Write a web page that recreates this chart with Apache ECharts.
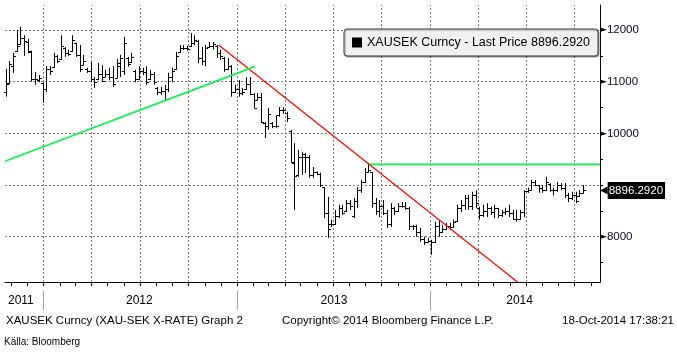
<!DOCTYPE html>
<html lang="sv">
<head>
<meta charset="UTF-8">
<title>XAUSEK Curncy</title>
<script src="https://cdn.jsdelivr.net/npm/echarts@6/dist/echarts.min.js"></script>
<style>
html, body { margin: 0; padding: 0; background: #fff; }
#chart { width: 677px; height: 353px; }
</style>
</head>
<body>
<div id="chart"></div>
<script>
// weekly bars, first week ends Fri 2011-10-21
var firstWeek = '2011-10-21';
var open = [10800,10980,11300,11600,11720,11850,11760,11580,11060,11040,10980,10850,11250,11280,11500,11430,11650,11560,11600,11740,
  11520,11330,11250,11200,11050,11050,11150,11100,11150,11100,11080,11300,11200,11450,11380,11200,11050,11200,11180,11050,
  11150,10880,10800,10820,10850,11100,11250,11580,11650,11650,11700,11750,11780,11450,11400,11680,11700,11700,11550,11450,
  11250,11300,10800,10850,10780,10850,10950,10760,10650,10700,10200,10150,10200,10150,10350,10450,10400,10050,9430,9200,
  9550,9550,9550,9200,9250,9220,8960,8450,8250,8250,8400,8550,8500,8650,8400,8700,8900,9050,9250,9250,
  8650,8500,8600,8450,8250,8550,8500,8600,8600,8550,8200,8200,8100,7950,7900,7920,7900,8200,8100,8150,
  8200,8180,8300,8550,8620,8750,8600,8800,8560,8420,8500,8550,8480,8550,8420,8480,8500,8450,8350,8350,
  8480,8880,8900,9050,9000,8950,8900,9020,8900,8900,9000,8950,8800,8750,8800,8780,8850];
var high = [11250,11400,11560,12000,12060,11900,11830,11600,11190,11130,10990,11300,11300,11560,11520,11900,11670,11620,11900,11750,
  11710,11520,11270,11380,11090,11360,11320,11230,11270,11300,11440,11520,11870,11480,11560,11230,11300,11270,11300,11230,
  11190,10900,10900,10940,11170,11270,11580,11710,11710,11700,11940,11900,11810,11670,11710,11770,11770,11710,11620,11480,
  11460,11320,10940,11030,10880,11090,11090,10780,10780,10780,10220,10490,10220,10350,10510,10510,10420,10070,9810,9680,
  9640,9620,9580,9350,9260,9240,8960,8770,8330,8520,8620,8620,8710,8710,8750,8960,9100,9330,9430,9250,
  8750,8710,8710,8520,8650,8580,8650,8670,8670,8580,8230,8230,8170,8000,7980,7940,8290,8320,8230,8270,
  8270,8330,8620,8710,8810,8810,8870,8900,8580,8620,8650,8580,8620,8560,8520,8560,8620,8520,8520,8520,
  8900,8950,9100,9100,9000,9000,9160,9040,8950,9060,9040,9040,8850,8870,8870,8900,9000];
var low = [10710,10950,11170,11580,11710,11500,11550,11000,10940,10990,10590,10800,11130,11270,11360,11420,11480,11500,11580,11480,
  11190,11320,11170,10990,10880,11030,10990,11090,11030,10900,11070,11090,11130,11290,11360,10990,11030,11130,10940,11030,
  10940,10740,10740,10650,10800,10990,11230,11560,11610,11600,11670,11710,11360,11320,11300,11650,11620,11460,11420,11190,
  11230,10710,10780,10710,10740,10840,10740,10490,10640,10200,9910,10070,10100,10100,10320,10380,10220,9430,8520,9160,
  9200,9230,9140,9140,9190,8960,8360,7980,8190,8230,8360,8420,8480,8520,8360,8560,8850,9040,9240,8560,
  8420,8380,8420,8170,8190,8420,8480,8560,8520,8130,8130,8000,7900,7840,7880,7650,7880,8000,8070,8130,
  8130,8170,8290,8480,8520,8520,8520,8560,8330,8380,8380,8420,8360,8360,8380,8420,8380,8330,8290,8330,
  8380,8850,8900,8980,8850,8850,8890,8870,8800,8870,8900,8750,8670,8710,8650,8770,8840];
var close = [10950,11350,11500,11700,11850,11780,11600,11050,11050,11080,10850,11250,11200,11500,11400,11700,11560,11540,11800,11520,
  11250,11400,11200,11050,10990,11150,11010,11150,11100,10960,11360,11450,11750,11350,11480,11050,11200,11180,11000,11150,
  11000,10800,10820,10850,11100,11200,11500,11650,11660,11640,11750,11800,11450,11400,11650,11700,11720,11550,11500,11250,
  11300,10800,10850,10780,10800,10950,10760,10500,10700,10220,10150,10380,10150,10150,10450,10450,10300,9450,9180,9550,
  9600,9550,9200,9250,9220,9000,8450,8150,8250,8400,8550,8450,8650,8600,8700,8900,9050,9250,9300,8650,
  8500,8600,8450,8250,8550,8500,8600,8600,8550,8200,8200,8100,7950,7900,7920,7900,8200,8100,8150,8200,
  8180,8280,8550,8620,8750,8600,8800,8650,8420,8500,8550,8480,8550,8420,8480,8500,8450,8350,8350,8480,
  8880,8900,9050,9000,8950,8900,9050,8900,8900,9000,8950,8800,8750,8800,8700,8850,8896.292];

var lastPrice = 8896.292;
var yMajor = [8000, 9000, 10000, 11000, 12000];
var yLabels = [8000, 10000, 11000, 12000];
var yMinor = [7500, 8000, 8500, 9000, 9500, 10000, 10500, 11000, 11500, 12000];
var yearLabelDates = ['2011-11-19', '2012-06-30', '2013-07-03', '2014-06-19'];

// trend lines drawn on the chart
var redTrend = [['2012-11-27', 11710], ['2014-06-15', 7124]];
var greenTrend = [['2011-10-20', 9460], ['2013-02-03', 11290]];
var greenLevel = [['2013-09-05', 9400], ['2014-11-18', 9400]];

function ts(s) {
  var p = s.split('-');
  return +new Date(+p[0], +p[1] - 1, +p[2]);
}
function toPts(arr) { return arr.map(function (p) { return [ts(p[0]), p[1]]; }); }

var xMin = ts('2011-10-20');
var xMax = ts('2014-11-18');
var t0 = ts(firstWeek);

var bars = [];
for (var i = 0; i < close.length; i++) {
  bars.push([t0 + i * 7 * 86400000, open[i], close[i], low[i], high[i]]);
}

var monthTicks = [];
for (var m = 10; m <= 46; m++) monthTicks.push(+new Date(2011, m, 1));
var yearStarts = [ts('2012-01-01'), ts('2013-01-01'), ts('2014-01-01')];
var quarters = [];
for (var q = 12; q <= 45; q += 3) quarters.push(+new Date(2011, q, 1));

var gridLines = [];
yMajor.forEach(function (v) { gridLines.push({ yAxis: v }); });
quarters.forEach(function (t) { gridLines.push({ xAxis: t }); });

var chart = echarts.init(document.getElementById('chart'));
var option = {
  animation: false,
  backgroundColor: '#fff',
  grid: { left: 5, right: 77, top: 5, bottom: 71, containLabel: false, outerBoundsMode: 'none' },
  legend: {
    left: 344, top: 29,
    data: ['XAUSEK Curncy'],
    icon: 'rect', itemWidth: 10, itemHeight: 10,
    padding: [7, 8],
    backgroundColor: '#f0f0f0', borderColor: '#3a3a3a', borderWidth: 1, borderRadius: 3,
    shadowColor: 'rgba(0,0,0,0.35)', shadowOffsetX: 1, shadowOffsetY: 1, shadowBlur: 1,
    selectedMode: false,
    textStyle: { color: '#000', fontSize: 12.5, fontFamily: 'Liberation Sans' },
    formatter: function (name) { return name + ' - Last Price ' + lastPrice.toFixed(4); }
  },
  xAxis: [{
    type: 'value', min: xMin, max: xMax,
    axisLine: { lineStyle: { color: '#000', width: 1 } },
    axisTick: { customValues: monthTicks, length: 4, lineStyle: { color: '#000' } },
    axisLabel: { show: false },
    splitLine: { show: false }
  }, {
    type: 'value', min: xMin, max: xMax, position: 'bottom', offset: 9,
    axisLine: { show: false },
    axisTick: { customValues: yearStarts, length: 19, lineStyle: { color: '#a0a0a0' } },
    axisLabel: {
      customValues: yearLabelDates.map(ts),
      margin: 4, color: '#000', fontSize: 12, fontFamily: 'Liberation Sans',
      formatter: function (v) { return String(new Date(v).getFullYear()); }
    },
    splitLine: { show: false }
  }],
  yAxis: [{
    type: 'value', position: 'right', min: 7124, max: 12484,
    axisLine: { show: true, lineStyle: { color: '#000', width: 1 } },
    axisTick: { customValues: yMinor, length: 3, lineStyle: { color: '#000' } },
    axisLabel: {
      customValues: yLabels, margin: 0,
      formatter: function (v) { return '{a|\u25BA}{b|' + v + '}'; },
      rich: {
        a: { fontFamily: 'DejaVu Sans', fontSize: 9, color: '#000' },
        b: { fontFamily: 'Liberation Sans', fontSize: 11.5, color: '#0a0a20' }
      }
    },
    splitLine: { show: false }
  }, {
    type: 'value', position: 'right', min: 7124, max: 12484,
    axisLine: { show: false }, axisTick: { show: false }, splitLine: { show: false },
    axisLabel: {
      customValues: [lastPrice], margin: 0,
      formatter: function (v) { return '{a|\u25C0}{b|' + v.toFixed(4) + '}'; },
      rich: {
        a: { fontFamily: 'DejaVu Sans', fontSize: 10, color: '#000' },
        b: { fontFamily: 'Liberation Sans', fontSize: 11.5, color: '#fff', backgroundColor: '#000', padding: [3, 2, 2, 1] }
      }
    }
  }],
  series: [{
    name: 'level', type: 'line', data: toPts(greenLevel), showSymbol: false, z: 4,
    lineStyle: { color: '#10f050', width: 1.8 },
    markLine: {
      silent: true, symbol: ['none', 'none'], z: 1, label: { show: false },
      lineStyle: { color: '#777', type: [2, 2], width: 1 },
      data: gridLines
    }
  }, {
    name: 'XAUSEK Curncy', type: 'custom', z: 3,
    itemStyle: { color: '#000' },
    encode: { x: 0, y: [1, 2, 3, 4] },
    data: bars,
    renderItem: function (params, api) {
      var t = api.value(0);
      var x = Math.round(api.coord([t, 0])[0]) + 0.5;
      var yo = Math.round(api.coord([t, api.value(1)])[1]) + 0.5;
      var yc = Math.round(api.coord([t, api.value(2)])[1]) + 0.5;
      var yl = api.coord([t, api.value(3)])[1];
      var yh = api.coord([t, api.value(4)])[1];
      var st = { stroke: '#000', lineWidth: 1 };
      return {
        type: 'group',
        children: [
          { type: 'line', shape: { x1: x, y1: yh, x2: x, y2: yl }, style: st },
          { type: 'line', shape: { x1: x - 2.5, y1: yo, x2: x, y2: yo }, style: st },
          { type: 'line', shape: { x1: x, y1: yc, x2: x + 2.5, y2: yc }, style: st }
        ]
      };
    }
  }, {
    name: 'red', type: 'line', data: toPts(redTrend), showSymbol: false, z: 5,
    lineStyle: { color: '#ff0000', width: 1.2 }
  }, {
    name: 'green', type: 'line', data: toPts(greenTrend), showSymbol: false, z: 5,
    lineStyle: { color: '#10f050', width: 1.8 }
  }],
  graphic: [
    { type: 'text', left: 6, top: 315, style: { text: 'XAUSEK Curncy (XAU-SEK X-RATE) Graph 2', font: '11.5px "Liberation Sans"', fill: '#000' } },
    { type: 'text', left: 282, top: 315, style: { text: 'Copyright\u00A9 2014 Bloomberg Finance L.P.', font: '11.5px "Liberation Sans"', fill: '#000' } },
    { type: 'text', right: 3, top: 315, style: { text: '18-Oct-2014 17:38:21', font: '11.5px "Liberation Sans"', fill: '#000' } },
    { type: 'text', left: 4, top: 337, style: { text: 'K\u00E4lla: Bloomberg', font: '10px "Liberation Sans Narrow", "Liberation Sans"', fill: '#000' } }
  ]
};
chart.setOption(option);
</script>
</body>
</html>
